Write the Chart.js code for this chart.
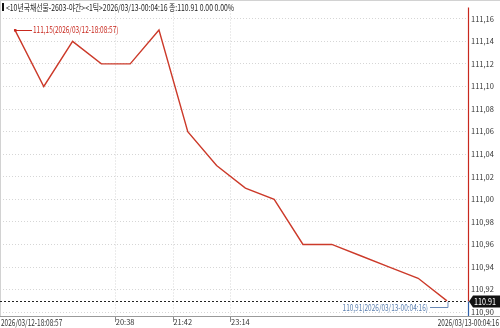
<!DOCTYPE html>
<html><head><meta charset="utf-8">
<script src="https://cdn.jsdelivr.net/npm/chart.js@4/dist/chart.umd.min.js"></script>
<style>html,body{margin:0;padding:0;background:#fff}#wrap{width:500px;height:328px;position:relative}</style>
</head><body><div id="wrap"><canvas id="c" width="500" height="328"></canvas></div>
<script>
const titleText = '<10년국채선물-2603-야간><1틱>2026/03/13-00:04:16 종:110.91 0.00 0.00%';
const prices = [111.15, 111.10, 111.14, 111.12, 111.12, 111.15, 111.06, 111.03, 111.01, 111.00, 110.96, 110.96, 110.95, 110.94, 110.93, 110.91];
const timeTickPos = [3.5, 5.5, 7.5];
const timeTickLabels = ['20:38', '21:42', '23:14'];
const startTime = '2026/03/12-18:08:57';
const endTime = '2026/03/13-00:04:16';
const priceTicks = [110.90, 110.92, 110.94, 110.96, 110.98, 111.00, 111.02, 111.04, 111.06, 111.08, 111.10, 111.12, 111.14, 111.16];
const highIndex = 0;
const lastIndex = prices.length - 1;

const FONT = "'Liberation Sans Narrow','Noto Sans CJK KR',sans-serif";
const fmtComma = v => v.toFixed(2).replace('.', ',');

function narrowText(ctx, text, x, y, align, baseline, sx, size, color) {
  ctx.save();
  ctx.font = size + 'px ' + FONT;
  ctx.fillStyle = color;
  ctx.textAlign = align;
  ctx.textBaseline = baseline;
  ctx.translate(x, y);
  ctx.scale(sx, 1);
  ctx.fillText(text, 0, 0);
  ctx.restore();
}

const overlay = {
  id: 'overlay',
  afterDraw(chart) {
    const ctx = chart.ctx, ca = chart.chartArea;
    const xs = chart.scales.x, ys = chart.scales.y;
    const W = chart.width;
    ctx.save();
    // frame
    ctx.strokeStyle = '#d2d2d2'; ctx.lineWidth = 1; ctx.setLineDash([]);
    ctx.beginPath(); ctx.moveTo(0, 0.5); ctx.lineTo(W, 0.5); ctx.stroke();
    ctx.beginPath(); ctx.moveTo(0.5, 0); ctx.lineTo(0.5, ca.bottom); ctx.stroke();
    ctx.strokeStyle = '#9a9a9a';
    ctx.beginPath(); ctx.moveTo(0, Math.round(ca.bottom) + 0.5); ctx.lineTo(W, Math.round(ca.bottom) + 0.5); ctx.stroke();

    const lastVal = prices[lastIndex];
    const yLast = Math.round(ys.getPixelForValue(lastVal)) + 0.5;
    const xr = Math.round(ca.right) + 0.5;
    // right axis: red above, blue below last price
    ctx.lineWidth = 1.2;
    ctx.strokeStyle = '#c8281e';
    ctx.beginPath(); ctx.moveTo(xr, ca.top); ctx.lineTo(xr, yLast); ctx.stroke();
    ctx.strokeStyle = '#2f5fa8';
    ctx.beginPath(); ctx.moveTo(xr, yLast); ctx.lineTo(xr, ca.bottom); ctx.stroke();

    // dotted last price line
    ctx.lineWidth = 1; ctx.strokeStyle = '#222'; ctx.setLineDash([2, 2]);
    ctx.beginPath(); ctx.moveTo(ca.left, yLast); ctx.lineTo(ca.right, yLast); ctx.stroke();
    ctx.setLineDash([]);

    // price tag
    ctx.fillStyle = '#111';
    ctx.beginPath();
    ctx.moveTo(ca.right + 1, yLast);
    ctx.lineTo(ca.right + 5, yLast - 6);
    ctx.lineTo(W, yLast - 6);
    ctx.lineTo(W, yLast + 6);
    ctx.lineTo(ca.right + 5, yLast + 6);
    ctx.closePath(); ctx.fill();
    narrowText(ctx, lastVal.toFixed(2), ca.right + 6, yLast, 'left', 'middle', 0.8, 9, '#fff');

    // high annotation
    const hx = xs.getPixelForValue(highIndex), hy = ys.getPixelForValue(prices[highIndex]);
    ctx.strokeStyle = '#c8281e'; ctx.lineWidth = 1;
    ctx.beginPath(); ctx.moveTo(hx, Math.round(hy) + 0.5); ctx.lineTo(hx + 17, Math.round(hy) + 0.5); ctx.stroke();
    ctx.fillStyle = '#c8281e';
    ctx.fillRect(hx - 1, hy - 1, 2.5, 2.5);
    narrowText(ctx, fmtComma(prices[highIndex]) + '(' + startTime + ')', hx + 18, hy, 'left', 'middle', 0.72, 9, '#c8281e');

    // last annotation
    const lx = xs.getPixelForValue(lastIndex), ly = ys.getPixelForValue(lastVal);
    const by = Math.round(ly + 6) + 0.5;
    ctx.strokeStyle = '#6a8ab8'; ctx.lineWidth = 1;
    ctx.beginPath(); ctx.moveTo(lx - 17, by); ctx.lineTo(lx + 1, by); ctx.lineTo(lx + 1, ly + 1); ctx.stroke();
    narrowText(ctx, fmtComma(lastVal) + '(' + endTime + ')', lx - 19, by, 'right', 'middle', 0.72, 9, '#5a7fb0');

    // edge time labels
    narrowText(ctx, startTime, 1, ca.bottom + 2, 'left', 'top', 0.72, 9, '#333');
    narrowText(ctx, endTime, W - 1, ca.bottom + 2, 'right', 'top', 0.72, 9, '#333');

    // title
    ctx.fillStyle = '#111';
    ctx.fillRect(2, 3, 2, 8);
    narrowText(ctx, titleText, 6, 7.5, 'left', 'middle', 0.76, 9, '#222');
    ctx.restore();
  }
};

new Chart(document.getElementById('c'), {
  type: 'line',
  data: {
    datasets: [{
      data: prices.map((p, i) => ({ x: i, y: p })),
      borderColor: '#cc3a2a',
      borderWidth: 1.4,
      pointRadius: 0,
      tension: 0,
      fill: false
    }]
  },
  options: {
    responsive: false,
    animation: false,
    events: [],
    layout: { padding: 0 },
    plugins: { legend: { display: false }, tooltip: { enabled: false } },
    scales: {
      x: {
        type: 'linear',
        min: -0.52,
        max: 15.73,
        afterBuildTicks: axis => { axis.ticks = timeTickPos.map(v => ({ value: v })); },
        afterFit: axis => { axis.height = 12; },
        ticks: {
          callback: (v, i) => timeTickLabels[i],
          align: 'start',
          autoSkip: false,
          maxRotation: 0,
          padding: -4,
          color: '#333',
          font: { family: FONT, size: 7.5 }
        },
        grid: { color: '#d6d6d6', drawTicks: true, tickLength: 6, tickColor: '#888', tickBorderDash: [] },
        border: { display: false, dash: [1, 2] }
      },
      y: {
        position: 'right',
        min: 110.8966,
        max: 111.170,
        afterBuildTicks: axis => { axis.ticks = priceTicks.map(v => ({ value: v })); },
        afterFit: axis => { axis.width = 32; },
        ticks: {
          callback: v => fmtComma(v),
          padding: 3,
          color: '#333',
          font: { family: FONT, size: 7.5 }
        },
        grid: { color: '#d6d6d6', drawTicks: false },
        border: { display: false, dash: [1, 2] }
      }
    }
  },
  plugins: [overlay]
});
</script>
</body></html>
